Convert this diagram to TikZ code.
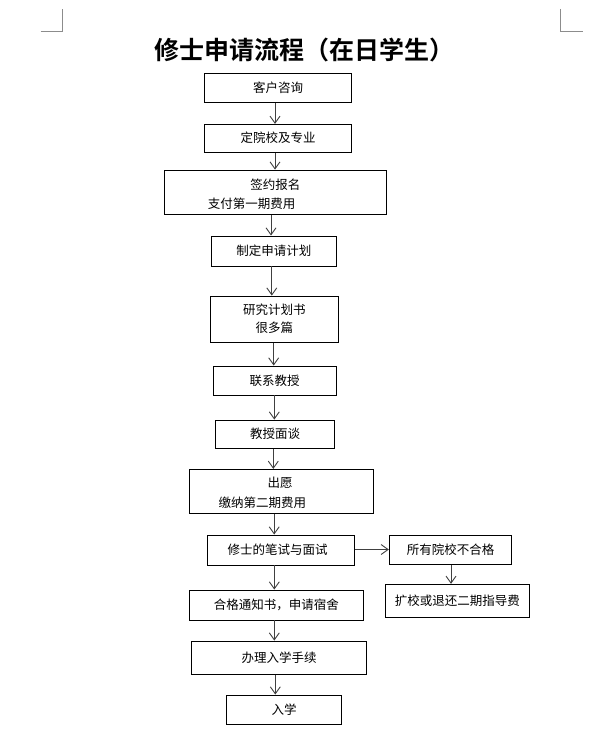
\documentclass[tikz,border=0pt]{standalone}
\usepackage{fontspec}
\setmainfont{Noto Sans CJK SC}
\newfontfamily\titlefont{Noto Sans CJK SC Bold}
\usetikzlibrary{arrows.meta}
\tikzset{
  box/.style={draw=black, line width=0.9bp, rectangle, inner sep=0pt, font=\fontsize{12.5bp}{15bp}\selectfont},
  txt/.style={inner sep=0pt, font=\fontsize{12.5bp}{15bp}\selectfont},
  arr/.style={draw=black!75, line width=0.9bp, -{Straight Barb[length=7bp,width=10bp,line width=0.9bp]}},
  corner/.style={draw=black!45, line width=0.8bp}
}
\begin{document}
\begin{tikzpicture}[x=1bp,y=-1bp]
\useasboundingbox (0,0) rectangle (614,745);
% corner marks
\draw[corner] (40.7,31.7) -- (62.3,31.7) -- (62.3,9);
\draw[corner] (560.3,9) -- (560.3,31.7) -- (582.7,31.7);
% title
\node[inner sep=0pt, font=\titlefont\fontsize{25bp}{28bp}\selectfont] (title) at (304,50) {修士申请流程（在日学生）};
% boxes
\node[box, minimum width=147bp, minimum height=29.5bp] (b1) at (278,87.75) {客户咨询};
\node[box, minimum width=147bp, minimum height=27.7bp] (b2) at (278,138.2) {定院校及专业};
\node[box, minimum width=222.4bp, minimum height=44.3bp] (b3) at (275.5,192.2) {};
\node[txt] (t3a) at (275.3,184.3) {签约报名};
\node[txt, anchor=west] (t3b) at (207.7,203.3) {支付第一期费用};
\node[box, minimum width=125.7bp, minimum height=30bp] (b4) at (273.8,251) {制定申请计划};
\node[box, minimum width=128.7bp, minimum height=46.3bp, align=center] (b5) at (274.3,319.2) {研究计划书\\[3bp]很多篇};
\node[box, minimum width=122.7bp, minimum height=29bp] (b6) at (274.7,380.5) {联系教授};
\node[box, minimum width=118.6bp, minimum height=28.3bp] (b7) at (275,434.2) {教授面谈};
\node[box, minimum width=183.7bp, minimum height=43.7bp] (b8) at (281.2,491.2) {};
\node[txt] (t8a) at (280,482.7) {出愿};
\node[txt, anchor=west] (t8b) at (218.3,502.7) {缴纳第二期费用};
\node[box, minimum width=146.7bp, minimum height=30bp] (b9) at (280.7,550) {};
\node[txt] (t9) at (277.5,549.3) {修士的笔试与面试};
\node[box, minimum width=122.4bp, minimum height=29.3bp] (b10) at (450.5,549.7) {所有院校不合格};
\node[box, minimum width=144bp, minimum height=33bp] (b11) at (457.3,600.8) {扩校或退还二期指导费};
\node[box, minimum width=174bp, minimum height=30bp] (b12) at (276.3,605) {合格通知书，申请宿舍};
\node[box, minimum width=175.4bp, minimum height=33.3bp] (b13) at (279,657.7) {办理入学手续};
\node[box, minimum width=115.4bp, minimum height=29bp] (b14) at (284,709.5) {入学};
% arrows
\draw[arr] ([xshift=-3bp]b1.south) -- ([xshift=-3bp]b1.south |- b2.north);
\draw[arr] ([xshift=-3bp]b2.south) -- ([xshift=-3bp]b2.south |- b3.north);
\draw[arr] ([xshift=-4.5bp]b3.south) -- ([xshift=-4.5bp]b3.south |- b4.north);
\draw[arr] ([xshift=-2bp]b4.south) -- ([xshift=-2bp]b4.south |- b5.north);
\draw[arr] ([xshift=-0.6bp]b5.south) -- ([xshift=-0.6bp]b5.south |- b6.north);
\draw[arr] ([xshift=-0.4bp]b6.south) -- ([xshift=-0.4bp]b6.south |- b7.north);
\draw[arr] ([xshift=-1.7bp]b7.south) -- ([xshift=-1.7bp]b7.south |- b8.north);
\draw[arr] ([xshift=-7bp]b8.south) -- ([xshift=-7bp]b8.south |- b9.north);
\draw[arr] ([xshift=-6.4bp]b9.south) -- ([xshift=-6.4bp]b9.south |- b12.north);
\draw[arr] ([xshift=-2bp]b12.south) -- ([xshift=-2bp]b12.south |- b13.north);
\draw[arr] ([xshift=-3.7bp]b13.south) -- ([xshift=-3.7bp]b13.south |- b14.north);
\draw[arr] ([yshift=0.5bp]b9.east) -- ([yshift=0.5bp]b9.east -| b10.west);
\draw[arr] ([xshift=0.5bp]b10.south) -- ([xshift=0.5bp]b10.south |- b11.north);
\end{tikzpicture}
\end{document}
